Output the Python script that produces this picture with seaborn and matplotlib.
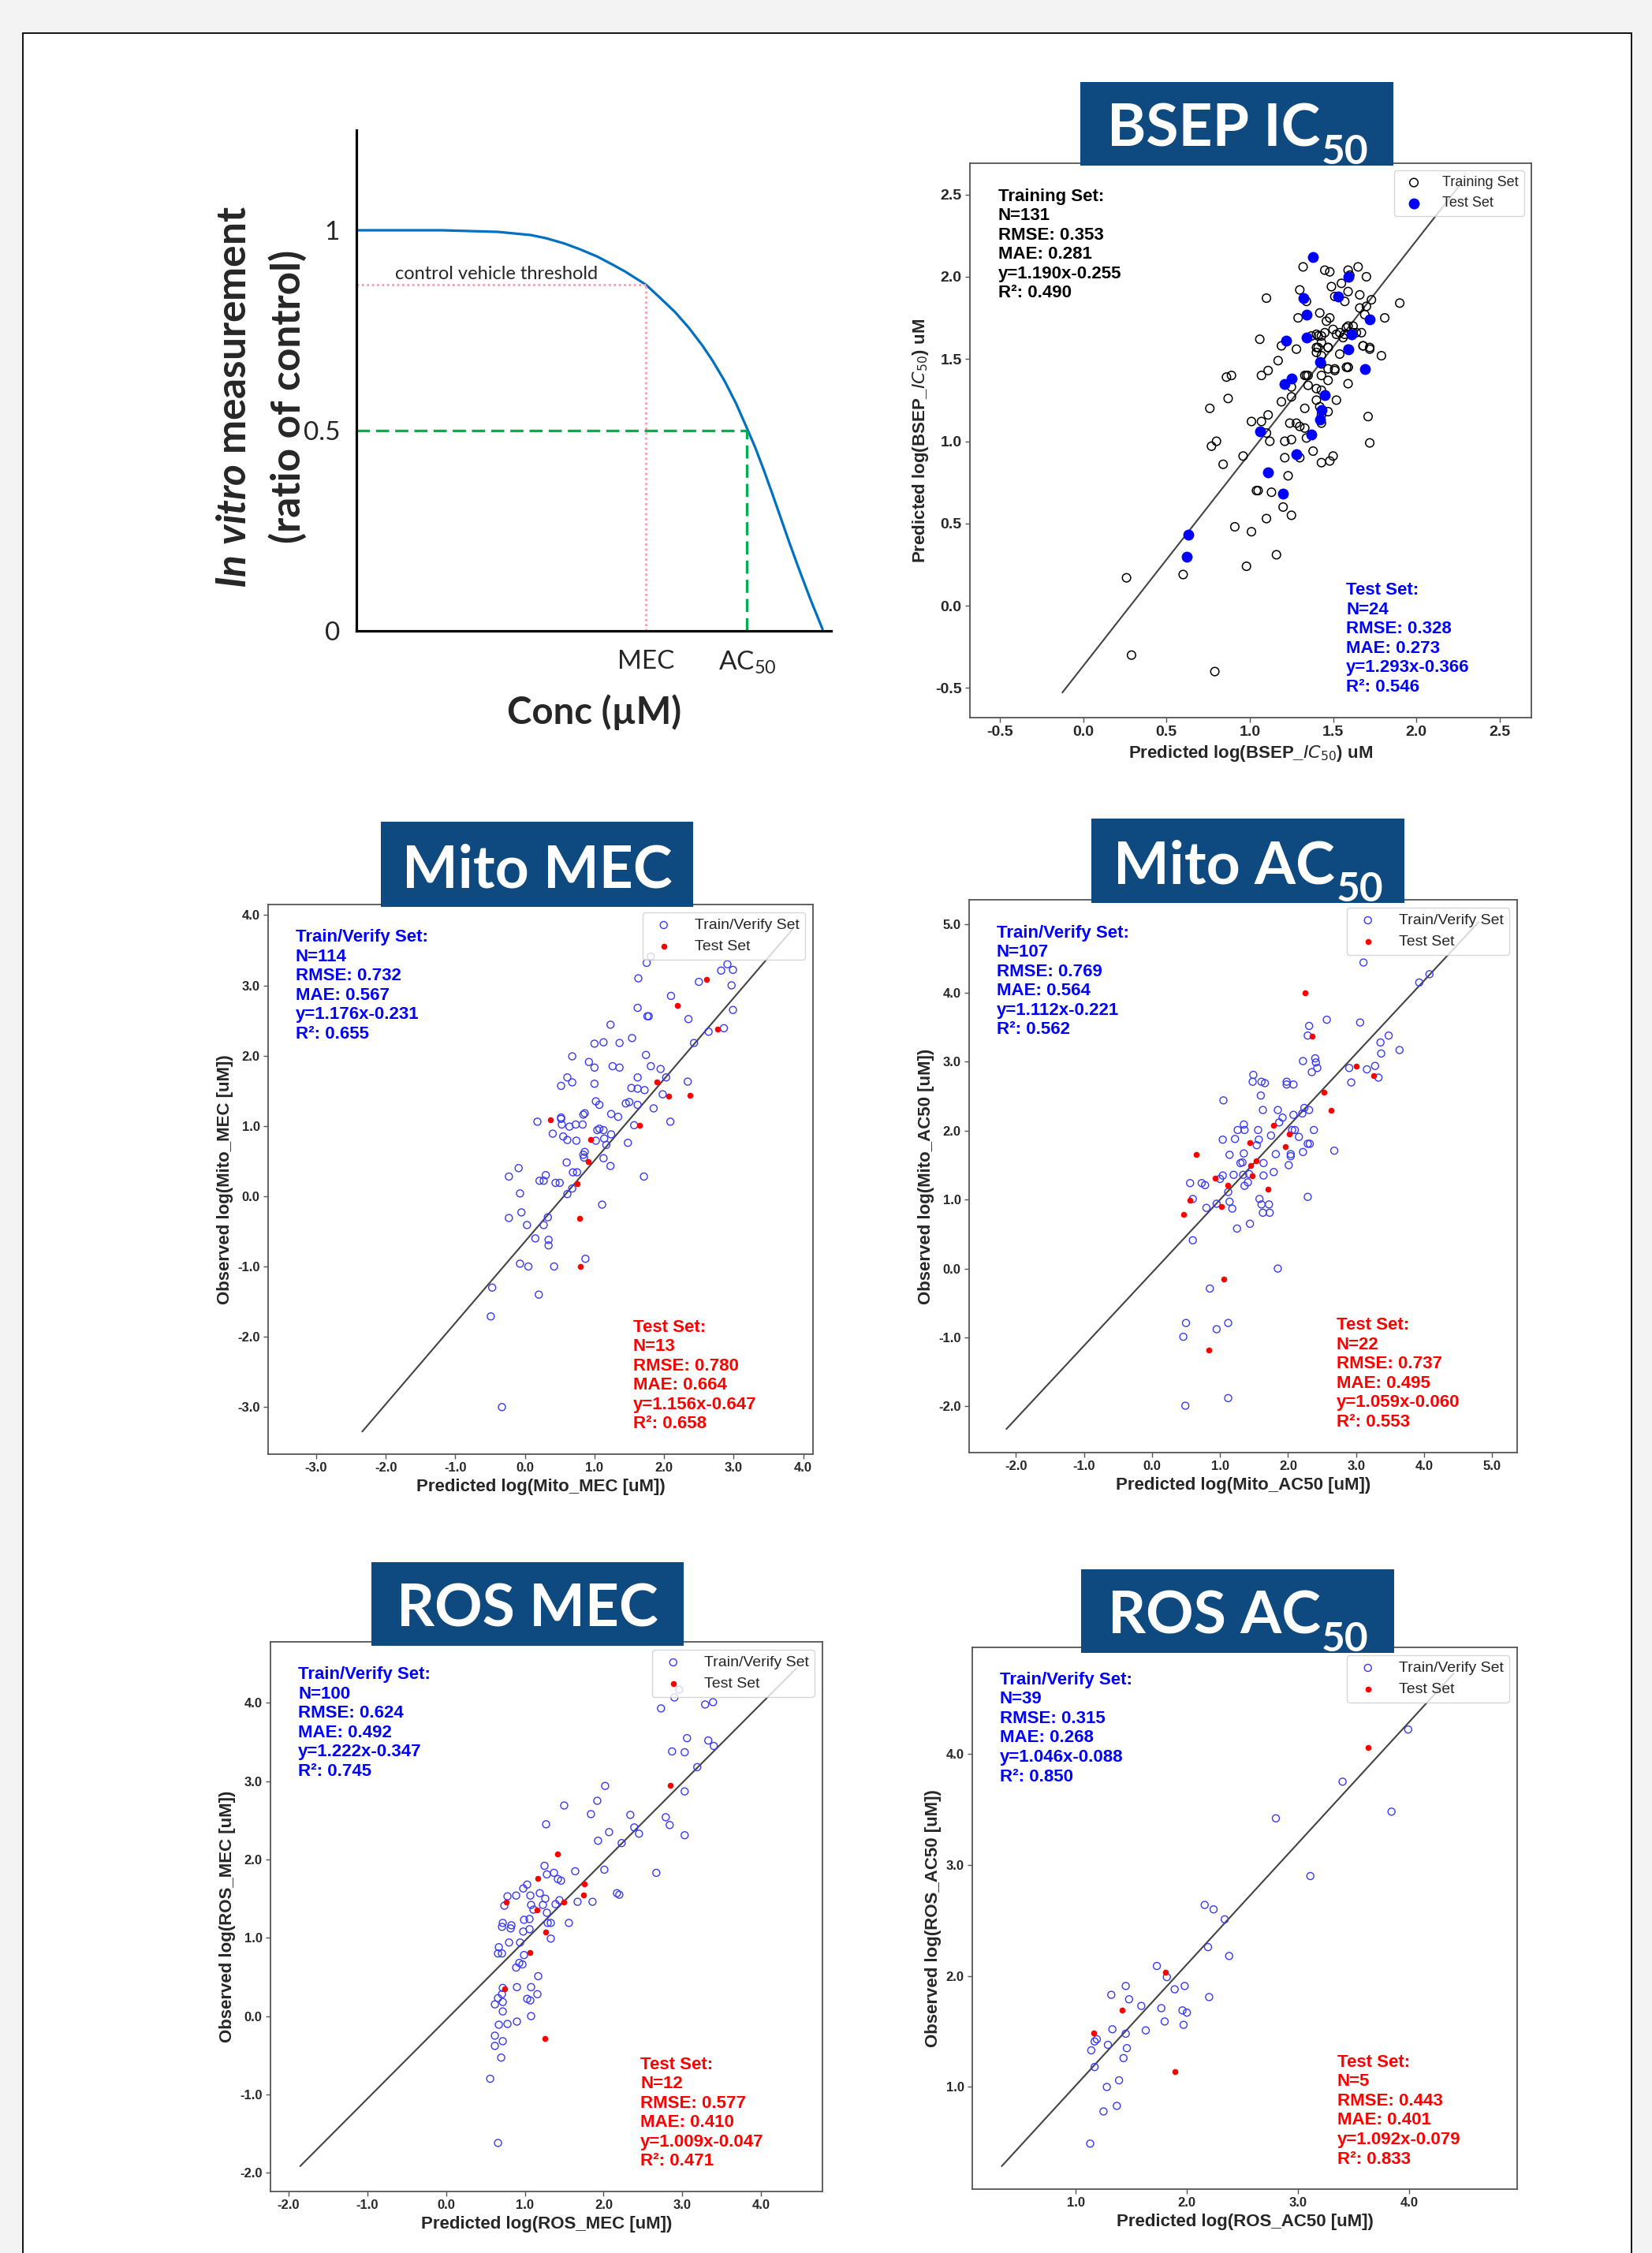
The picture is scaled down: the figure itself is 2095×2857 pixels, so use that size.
import matplotlib
matplotlib.use("Agg")
import matplotlib.pyplot as plt
from matplotlib.patches import Rectangle
from matplotlib.ticker import FormatStrFormatter
import pandas as pd
import seaborn as sns

W, H = 2095, 2857

# ---- schematic concentration-response curve ----
curve_x = [0.0, 0.181, 0.298, 0.368, 0.40, 0.438, 0.47, 0.508, 0.54, 0.566, 0.610, 0.64, 0.671,
           0.70, 0.729, 0.75, 0.776, 0.80, 0.823, 0.84, 0.858, 0.875, 0.893, 0.91, 0.928, 0.94,
           0.957, 0.97, 0.982]
curve_y = [1.0, 1.0, 0.996, 0.988, 0.98, 0.967, 0.953, 0.934, 0.914, 0.897, 0.864, 0.831, 0.796,
           0.757, 0.712, 0.675, 0.623, 0.567, 0.505, 0.458, 0.402, 0.346, 0.285, 0.227, 0.168,
           0.130, 0.077, 0.039, 0.004]
mec_conc = 0.61
ac50_conc = 0.823
threshold = 0.864

# ---- BSEP IC50 ----
bsep_train = [(0.26, 0.17), (0.29, -0.30), (0.60, 0.19), (0.79, -0.40), (0.98, 0.24), (1.16, 0.31),
              (1.01, 0.45), (0.91, 0.48), (1.10, 0.53), (1.25, 0.55), (1.20, 0.60), (1.13, 0.69),
              (1.04, 0.70), (1.05, 0.70), (1.23, 0.79), (0.84, 0.86), (0.96, 0.91), (1.21, 0.90),
              (1.30, 0.90), (1.38, 0.94), (1.43, 0.87), (1.48, 0.88), (1.50, 0.91), (0.77, 0.97),
              (0.80, 1.00), (1.12, 1.00), (1.21, 1.00), (1.25, 1.01), (1.34, 1.02), (1.10, 1.05),
              (1.01, 1.12), (1.07, 1.12), (1.24, 1.11), (1.28, 1.11), (1.30, 1.09), (1.33, 1.08),
              (1.43, 1.11), (1.43, 1.16), (1.42, 1.21), (1.47, 1.18), (1.11, 1.16), (0.76, 1.20),
              (1.33, 1.20), (1.19, 1.24), (1.25, 1.27), (1.40, 1.25), (1.52, 1.25), (0.87, 1.26),
              (1.40, 1.32), (1.43, 1.31), (1.35, 1.34), (1.25, 1.33), (1.47, 1.37), (1.59, 1.35),
              (0.86, 1.39), (0.89, 1.40), (1.07, 1.40), (1.11, 1.43), (1.33, 1.40), (1.35, 1.40),
              (1.43, 1.40), (1.47, 1.44), (1.51, 1.44), (1.58, 1.45), (1.59, 1.45), (1.17, 1.49),
              (1.54, 1.53), (1.72, 1.57), (1.79, 1.52), (1.28, 1.56), (1.41, 1.57), (1.40, 1.54),
              (1.47, 1.57), (1.59, 1.56), (1.68, 1.58), (1.06, 1.62), (1.19, 1.58), (1.40, 1.65),
              (1.43, 1.64), (1.45, 1.66), (1.50, 1.68), (1.52, 1.65), (1.54, 1.66), (1.57, 1.65),
              (1.56, 1.63), (1.62, 1.66), (1.64, 1.66), (1.67, 1.66), (1.59, 1.70), (1.58, 1.69),
              (1.62, 1.70), (1.29, 1.75), (1.81, 1.75), (1.42, 1.78), (1.48, 1.75), (1.46, 1.73),
              (1.66, 1.81), (1.69, 1.77), (1.70, 1.82), (1.34, 1.85), (1.10, 1.87), (1.51, 1.88),
              (1.57, 1.85), (1.66, 1.89), (1.73, 1.86), (1.90, 1.84), (1.30, 1.92), (1.49, 1.94),
              (1.55, 1.96), (1.59, 1.91), (1.60, 2.01), (1.70, 2.00), (1.45, 2.04), (1.48, 2.03),
              (1.32, 2.06), (1.65, 2.06), (1.59, 2.04), (1.71, 1.15), (1.72, 0.99), (1.43, 1.52),
              (1.43, 1.47), (1.37, 1.64), (1.41, 1.64), (1.40, 1.57), (1.43, 1.60), (1.47, 1.57),
              (1.51, 1.43), (1.59, 1.45), (1.34, 1.40), (1.68, 1.58), (1.72, 1.56)]
bsep_test = [(0.63, 0.43), (0.62, 0.30), (1.11, 0.81), (1.20, 0.68), (1.28, 0.92), (1.37, 1.04),
             (1.06, 1.06), (1.42, 1.13), (1.43, 1.19), (1.45, 1.28), (1.21, 1.35), (1.25, 1.38),
             (1.42, 1.48), (1.59, 1.56), (1.69, 1.44), (1.22, 1.61), (1.34, 1.63), (1.61, 1.65),
             (1.34, 1.77), (1.72, 1.74), (1.32, 1.87), (1.53, 1.88), (1.59, 2.00), (1.38, 2.12)]
bsep_train_stats = [131, 0.353, 0.281, 1.190, -0.255, 0.490]
bsep_test_stats = [24, 0.328, 0.273, 1.293, -0.366, 0.546]

# ---- Mito MEC ----
mmec_train = [(-0.33, -3.00), (-0.49, -1.71), (-0.47, -1.30), (0.20, -1.40), (-0.07, -0.96), (0.05, -1.00),
              (0.42, -1.00), (0.87, -0.89), (0.34, -0.70), (0.34, -0.62), (0.15, -0.60), (0.03, -0.41),
              (0.27, -0.41), (0.33, -0.30), (-0.05, -0.23), (-0.23, -0.31), (-0.07, 0.04), (-0.23, 0.28),
              (-0.09, 0.40), (0.21, 0.22), (0.27, 0.22), (0.30, 0.30), (0.44, 0.19), (0.50, 0.19),
              (0.61, 0.03), (0.68, 0.11), (0.69, 0.34), (0.75, 0.34), (0.60, 0.48), (0.85, 0.55),
              (0.86, 0.63), (1.11, -0.12), (1.71, 0.28), (1.13, 0.54), (1.23, 0.43), (1.17, 0.73),
              (1.14, 0.82), (1.24, 0.88), (1.04, 0.94), (1.07, 0.96), (1.13, 0.94), (1.48, 0.76),
              (1.57, 1.01), (0.18, 1.06), (0.40, 0.89), (0.55, 0.85), (0.61, 0.80), (0.74, 0.79),
              (0.64, 0.99), (0.73, 1.02), (0.83, 1.02), (0.52, 1.12), (0.52, 1.10), (0.86, 1.18),
              (0.84, 1.16), (1.02, 1.35), (1.07, 1.30), (1.24, 1.17), (1.34, 1.13), (1.45, 1.32),
              (1.50, 1.34), (1.62, 1.30), (1.85, 1.25), (2.09, 1.06), (1.53, 1.54), (1.62, 1.53),
              (1.72, 1.51), (1.62, 1.69), (1.98, 1.45), (2.03, 1.69), (2.34, 1.63), (1.81, 1.85),
              (1.95, 1.81), (1.74, 2.01), (1.26, 1.85), (1.36, 1.83), (1.00, 1.83), (0.92, 1.91),
              (1.00, 1.60), (0.68, 1.99), (0.61, 1.69), (0.68, 1.62), (0.52, 1.57), (1.00, 2.17),
              (1.13, 2.19), (1.36, 2.18), (1.54, 2.25), (1.23, 2.44), (1.62, 2.68), (1.76, 2.56),
              (1.78, 2.56), (2.10, 2.85), (2.35, 2.52), (2.43, 2.18), (2.64, 2.34), (2.86, 2.39),
              (2.99, 2.65), (2.97, 3.00), (2.50, 3.05), (2.82, 3.21), (2.99, 3.22), (2.91, 3.30),
              (1.63, 3.10), (1.75, 3.32), (1.81, 3.41), (1.02, 0.79), (0.53, 1.02), (0.84, 0.59)]
mmec_test = [(0.37, 1.09), (0.95, 0.81), (0.91, 0.49), (0.75, 0.18), (0.79, -0.31), (0.80, -1.00),
             (1.65, 1.01), (1.90, 1.63), (2.07, 1.42), (2.37, 1.44), (2.19, 2.71), (2.77, 2.38),
             (2.61, 3.08)]
mmec_train_stats = [114, 0.732, 0.567, 1.176, -0.231, 0.655]
mmec_test_stats = [13, 0.780, 0.664, 1.156, -0.647, 0.658]

# ---- Mito AC50 ----
mac_train = [(0.49, -1.99), (1.12, -1.88), (0.46, -0.99), (0.50, -0.79), (0.95, -0.88), (1.12, -0.79),
             (0.85, -0.29), (1.85, 0.00), (0.60, 0.41), (1.25, 0.58), (1.44, 0.65), (0.80, 0.88),
             (0.95, 0.94), (1.14, 0.97), (1.18, 0.87), (0.60, 1.01), (1.58, 1.01), (1.61, 0.93),
             (1.72, 0.93), (1.63, 0.81), (1.73, 0.81), (2.29, 1.04), (0.56, 1.24), (0.73, 1.24),
             (0.78, 1.21), (1.00, 1.30), (1.04, 1.35), (1.12, 1.11), (1.20, 1.36), (1.36, 1.20),
             (1.41, 1.25), (1.34, 1.36), (1.43, 1.37), (1.64, 1.35), (1.79, 1.40), (1.14, 1.65),
             (1.35, 1.67), (1.30, 1.53), (1.33, 1.54), (1.54, 1.79), (1.64, 1.53), (1.57, 1.87),
             (1.82, 1.66), (2.01, 1.50), (2.04, 1.66), (2.04, 1.63), (2.22, 1.69), (2.68, 1.71),
             (2.29, 1.81), (2.32, 1.81), (1.04, 1.87), (1.22, 1.88), (1.26, 2.01), (1.36, 2.01),
             (1.35, 2.09), (1.56, 2.01), (1.75, 1.93), (2.10, 2.01), (2.16, 1.91), (2.38, 2.01),
             (2.06, 2.01), (1.92, 2.19), (1.87, 2.12), (2.08, 2.23), (2.21, 2.25), (2.24, 2.33),
             (2.31, 2.30), (1.85, 2.30), (1.63, 2.30), (1.60, 2.51), (1.05, 2.44), (1.49, 2.81),
             (1.48, 2.71), (1.61, 2.71), (1.66, 2.69), (1.98, 2.71), (1.98, 2.67), (2.08, 2.67),
             (2.22, 3.01), (2.35, 2.85), (2.40, 3.05), (2.41, 2.99), (2.43, 2.91), (2.31, 3.52),
             (2.29, 3.38), (2.57, 3.61), (2.90, 2.91), (2.93, 2.70), (3.16, 2.89), (3.28, 2.94),
             (3.33, 2.77), (3.37, 3.12), (3.36, 3.28), (3.48, 3.38), (3.64, 3.17), (3.06, 3.57),
             (3.11, 4.44), (3.93, 4.15), (4.08, 4.27)]
mac_test = [(0.84, -1.18), (1.06, -0.15), (0.46, 0.79), (0.56, 0.99), (0.65, 1.66), (0.93, 1.31),
            (1.02, 0.90), (1.11, 1.21), (1.44, 1.83), (1.45, 1.49), (1.47, 1.35), (1.53, 1.56),
            (1.70, 1.15), (1.79, 2.08), (1.96, 1.77), (2.02, 1.95), (2.25, 4.00), (2.35, 3.37),
            (2.53, 2.56), (2.63, 2.29), (3.00, 2.94), (3.26, 2.80)]
mac_train_stats = [107, 0.769, 0.564, 1.112, -0.221, 0.562]
mac_test_stats = [22, 0.737, 0.495, 1.059, -0.060, 0.553]

# ---- ROS MEC ----
rmec_train = [(0.66, -1.62), (0.56, -0.80), (0.70, -0.53), (0.62, -0.38), (0.72, -0.32), (0.62, -0.25),
              (0.67, -0.11), (0.78, -0.10), (0.90, -0.07), (1.08, 0.00), (0.72, 0.06), (0.62, 0.15),
              (0.72, 0.18), (0.66, 0.23), (0.71, 0.28), (0.72, 0.36), (0.90, 0.37), (1.08, 0.37),
              (1.03, 0.22), (1.07, 0.20), (1.16, 0.28), (1.17, 0.51), (0.89, 0.62), (0.97, 0.66),
              (0.93, 0.68), (0.66, 0.80), (0.71, 0.80), (0.67, 0.88), (0.80, 0.94), (0.94, 0.94),
              (0.99, 0.78), (0.82, 1.12), (0.71, 1.14), (0.72, 1.19), (0.83, 1.16), (0.98, 1.08),
              (1.06, 1.11), (0.99, 1.23), (1.06, 1.24), (1.33, 0.99), (1.29, 1.19), (1.33, 1.19),
              (1.56, 1.19), (0.74, 1.41), (0.78, 1.53), (0.89, 1.54), (1.07, 1.54), (1.08, 1.42),
              (1.11, 1.36), (1.19, 1.57), (1.26, 1.50), (1.23, 1.42), (1.28, 1.32), (1.39, 1.43),
              (1.44, 1.48), (1.67, 1.46), (1.86, 1.46), (0.98, 1.63), (1.03, 1.68), (1.25, 1.92),
              (1.28, 1.81), (1.37, 1.83), (1.42, 1.75), (1.46, 1.73), (1.64, 1.85), (2.01, 1.87),
              (2.17, 1.57), (2.20, 1.55), (2.67, 1.83), (1.27, 2.45), (1.50, 2.69), (1.84, 2.58),
              (1.93, 2.24), (2.07, 2.35), (2.02, 2.94), (1.92, 2.75), (2.23, 2.21), (2.34, 2.57),
              (2.39, 2.41), (2.45, 2.33), (2.79, 2.54), (2.84, 2.44), (3.03, 2.31), (3.03, 2.87),
              (2.87, 3.38), (3.03, 3.37), (3.06, 3.55), (3.19, 3.18), (3.33, 3.52), (3.40, 3.45),
              (2.73, 3.93), (2.90, 4.07), (2.96, 4.17), (3.29, 3.98), (3.39, 4.01)]
rmec_test = [(1.25, -0.29), (0.74, 0.35), (1.06, 0.81), (1.26, 1.07), (1.15, 1.36), (0.76, 1.46),
             (1.16, 1.76), (1.42, 2.07), (1.50, 1.46), (1.76, 1.69), (1.75, 1.55), (2.85, 2.95)]
rmec_train_stats = [100, 0.624, 0.492, 1.222, -0.347, 0.745]
rmec_test_stats = [12, 0.577, 0.410, 1.009, -0.047, 0.471]

# ---- ROS AC50 ----
rac_train = [(1.13, 0.49), (1.25, 0.78), (1.37, 0.83), (1.28, 1.00), (1.39, 1.06), (1.17, 1.18),
             (1.14, 1.33), (1.17, 1.41), (1.19, 1.43), (1.29, 1.38), (1.33, 1.52), (1.43, 1.26),
             (1.46, 1.35), (1.45, 1.48), (1.32, 1.83), (1.45, 1.91), (1.48, 1.79), (1.59, 1.73),
             (1.63, 1.51), (1.73, 2.09), (1.77, 1.71), (1.80, 1.59), (1.82, 1.99), (1.89, 1.88),
             (1.98, 1.91), (1.96, 1.69), (2.00, 1.67), (1.97, 1.56), (2.20, 1.81), (2.19, 2.26),
             (2.38, 2.18), (2.16, 2.64), (2.24, 2.60), (2.34, 2.51), (2.80, 3.42), (3.11, 2.90),
             (3.40, 3.75), (3.84, 3.48), (3.99, 4.22)]
rac_test = [(1.16, 1.49), (1.42, 1.69), (1.81, 2.03), (1.89, 1.14), (3.63, 4.06)]
rac_train_stats = [39, 0.315, 0.268, 1.046, -0.088, 0.850]
rac_test_stats = [5, 0.443, 0.401, 1.092, -0.079, 0.833]

sns.set_style("ticks")
plt.rcParams['font.family'] = ['Liberation Sans', 'DejaVu Sans']
plt.rcParams['mathtext.rm'] = 'Lato'
plt.rcParams['mathtext.bf'] = 'Lato:bold'
plt.rcParams['mathtext.it'] = 'Lato:italic:bold'

fig = plt.figure(figsize=(W / 100, H / 100), dpi=100, facecolor='#f3f3f3')
fig.add_artist(Rectangle((29 / W, -0.01), 2040 / W, 1 - 42 / H + 0.01, transform=fig.transFigure,
                         facecolor='white', edgecolor='black', lw=1.3, zorder=-10))


def px_axes(l, r, t, b):
    return fig.add_axes([l / W, 1 - b / H, (r - l) / W, (b - t) / H])


def stats_text(title, s):
    n, rmse, mae, slope, icpt, r2 = s
    return (f"{title}\nN={n}\nRMSE: {rmse:.3f}\nMAE: {mae:.3f}\n"
            f"y={slope:.3f}x{icpt:+.3f}\nR\u00b2: {r2:.3f}")


def scatter_panel(box, train, test, tr_stats, te_stats, fit_x, lims, ticks, xlab, ylab,
                  bsep=False):
    ax = px_axes(*box)
    tr = pd.DataFrame(train, columns=['pred', 'obs'])
    te = pd.DataFrame(test, columns=['pred', 'obs'])
    if bsep:
        tr_lab, tr_title, tr_col, te_col = "Training Set", "Training Set:", 'black', 'blue'
        sns.scatterplot(data=tr, x='pred', y='obs', ax=ax, facecolors='none', edgecolor='black',
                        s=58, linewidth=1.1, label=tr_lab, zorder=3)
        sns.scatterplot(data=te, x='pred', y='obs', ax=ax, color='blue', edgecolor='blue',
                        s=100, linewidth=0, label="Test Set", zorder=4)
        tick_fs, leg_fs = 14, 13
    else:
        tr_lab, tr_title, tr_col, te_col = "Train/Verify Set", "Train/Verify Set:", 'blue', 'red'
        sns.scatterplot(data=tr, x='pred', y='obs', ax=ax, facecolors='none', edgecolor='#3a3af2',
                        s=42, linewidth=1.0, label=tr_lab, zorder=3)
        sns.scatterplot(data=te, x='pred', y='obs', ax=ax, color='red', edgecolor='red',
                        s=30, linewidth=0, label="Test Set", zorder=4)
        tick_fs, leg_fs = 12, 14
    slope, icpt = te_stats[3], te_stats[4]
    ax.plot(fit_x, [slope * v + icpt for v in fit_x], color='#444444', lw=1.5, zorder=2)
    ax.set_xlim(lims[0])
    ax.set_ylim(lims[1])
    ax.set_xticks(ticks[0])
    ax.set_yticks(ticks[1])
    ax.xaxis.set_major_formatter(FormatStrFormatter('%.1f'))
    ax.yaxis.set_major_formatter(FormatStrFormatter('%.1f'))
    ax.tick_params(labelsize=tick_fs, length=4, width=1, color='#555555')
    for lbl in ax.get_xticklabels() + ax.get_yticklabels():
        lbl.set_fontweight('bold')
    ax.set_xlabel(xlab, fontsize=16, fontweight='bold')
    ax.set_ylabel(ylab, fontsize=16, fontweight='bold')
    for sp in ax.spines.values():
        sp.set_color('#555555')
        sp.set_linewidth(1.3)
    ax.text(0.05, 0.955, stats_text(tr_title, tr_stats), transform=ax.transAxes, ha='left',
            va='top', fontsize=16, fontweight='bold', color=tr_col, linespacing=1.22)
    ax.text(0.67, 0.04, stats_text("Test Set:", te_stats), transform=ax.transAxes, ha='left',
            va='bottom', fontsize=16, fontweight='bold', color=te_col, linespacing=1.22)
    ax.legend(loc='upper right', fontsize=leg_fs, frameon=True, handletextpad=1.0)
    return ax


def banner(l, r, t, b, main, sub=None):
    bx = px_axes(l, r, t, b)
    bx.set_facecolor('#0e4a80')
    bx.set_xticks([])
    bx.set_yticks([])
    for sp in bx.spines.values():
        sp.set_visible(False)
    style = dict(transform=bx.transAxes, va='baseline', color='white', fontweight='bold',
                 family='Lato')
    t_main = bx.text(0.5, 0.23, main, ha='center', fontsize=54, **style)
    if sub is not None:
        t_main.set_ha('left')
        t_sub = bx.text(0.5, 0.02, sub, ha='left', fontsize=37, **style)
        r = fig.canvas.get_renderer()
        bw = bx.get_window_extent(r).width
        wm = t_main.get_window_extent(r).width / bw
        ws = t_sub.get_window_extent(r).width / bw
        x0 = 0.5 - (wm + ws) / 2
        t_main.set_x(x0)
        t_sub.set_x(x0 + wm + 0.004)


# ---- schematic ----
ax0 = px_axes(452, 1054, 165, 800)
ax0.set_facecolor('none')
sns.lineplot(x=curve_x, y=curve_y, sort=False, estimator=None, color='#0070c0', lw=2.3, ax=ax0)
ax0.plot([0, mec_conc], [threshold, threshold], color='#f2a0b0', lw=2, ls=(0, (1, 1.3)))
ax0.plot([mec_conc, mec_conc], [0, threshold], color='#f2a0b0', lw=2, ls=(0, (1, 1.3)))
ax0.plot([0, ac50_conc], [0.5, 0.5], color='#00b050', lw=2.4, ls=(0, (5, 2.3)))
ax0.plot([ac50_conc, ac50_conc], [0, 0.5], color='#00b050', lw=2.4, ls=(0, (5, 2.3)))
ax0.set_xlim(0, 1.0)
ax0.set_ylim(0, 1.25)
ax0.spines['top'].set_visible(False)
ax0.spines['right'].set_visible(False)
for s in ['left', 'bottom']:
    ax0.spines[s].set_color('black')
    ax0.spines[s].set_linewidth(2.3)
ax0.set_yticks([0, 0.5, 1], ["0", "0.5", "1"], fontsize=24, family='Lato')
ax0.set_xticks([mec_conc, ac50_conc], ["MEC", r"AC$_{\mathrm{50}}$"], fontsize=24, family='Lato',
               math_fontfamily='custom')
ax0.tick_params(axis='y', length=0, pad=15)
ax0.tick_params(axis='x', length=0, pad=17)
ax0.text(0.082, 0.877, "control vehicle threshold", fontsize=17, family='Lato', va='baseline')
fig.text(298 / W, 1 - 503 / H, r"$\mathit{In\ vitro}$ measurement", rotation=90, ha='center',
         va='center', fontsize=37, fontweight='bold', family='Lato', math_fontfamily='custom')
fig.text(365 / W, 1 - 503 / H, "(ratio of control)", rotation=90, ha='center', va='center',
         fontsize=37, fontweight='bold', family='Lato')
fig.text(754 / W, 1 - 903 / H, "Conc (\u00b5M)", ha='center', va='center', fontsize=34,
         fontweight='bold', family='Lato')

# ---- scatter panels ----
scatter_panel((1230, 1942, 207, 910), bsep_train, bsep_test, bsep_train_stats, bsep_test_stats,
              [-0.125, 2.26], [(-0.68, 2.69), (-0.68, 2.69)],
              [[-0.5, 0.0, 0.5, 1.0, 1.5, 2.0, 2.5]] * 2,
              r"Predicted log(BSEP_$IC_{50}$) uM", r"Predicted log(BSEP_$IC_{50}$) uM", bsep=True)
scatter_panel((340, 1031, 1147, 1844), mmec_train, mmec_test, mmec_train_stats, mmec_test_stats,
              [-2.337, 3.85], [(-3.69, 4.14), (-3.67, 4.15)],
              [[-3, -2, -1, 0, 1, 2, 3, 4]] * 2,
              "Predicted log(Mito_MEC [uM])", "Observed log(Mito_MEC [uM])")
scatter_panel((1229, 1924, 1141, 1842), mac_train, mac_test, mac_train_stats, mac_test_stats,
              [-2.142, 4.8], [(-2.69, 5.37), (-2.67, 5.35)],
              [[-2, -1, 0, 1, 2, 3, 4, 5]] * 2,
              "Predicted log(Mito_AC50 [uM])", "Observed log(Mito_AC50 [uM])")
scatter_panel((343, 1043, 2082, 2779), rmec_train, rmec_test, rmec_train_stats, rmec_test_stats,
              [-1.853, 4.45], [(-2.23, 4.78), (-2.24, 4.78)],
              [[-2, -1, 0, 1, 2, 3, 4]] * 2,
              "Predicted log(ROS_MEC [uM])", "Observed log(ROS_MEC [uM])")
scatter_panel((1233, 1924, 2089, 2776), rac_train, rac_test, rac_train_stats, rac_test_stats,
              [0.335, 4.40], [(0.07, 4.97), (0.08, 4.96)],
              [[1, 2, 3, 4]] * 2,
              "Predicted log(ROS_AC50 [uM])", "Observed log(ROS_AC50 [uM])")

# ---- title banners ----
banner(1370, 1767, 104, 210, "BSEP IC", "50")
banner(483, 879, 1042, 1150, "Mito MEC")
banner(1384, 1781, 1038, 1145, "Mito AC", "50")
banner(471, 867, 1981, 2087, "ROS MEC")
banner(1371, 1768, 1990, 2096, "ROS AC", "50")

fig.savefig("out.png", dpi=100, facecolor=fig.get_facecolor())
